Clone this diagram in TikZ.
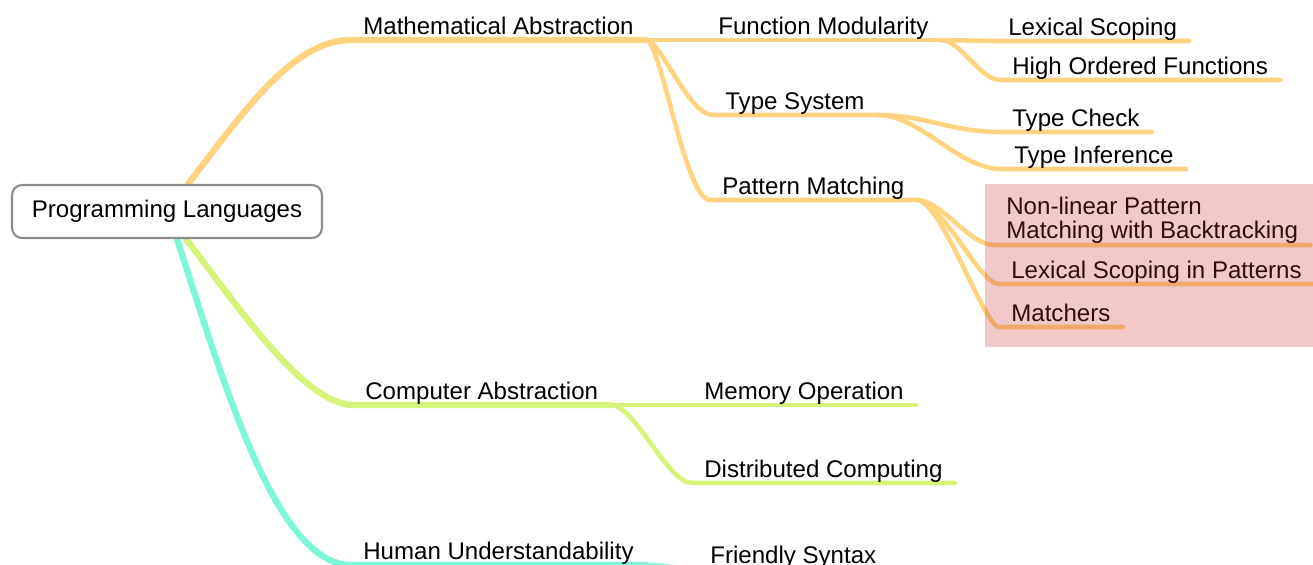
\documentclass[tikz,border=0pt]{standalone}
\usepackage{fontspec}
\setmainfont{Liberation Sans}
\usetikzlibrary{backgrounds}
\definecolor{mathcol}{RGB}{255,211,128}
\definecolor{compcol}{RGB}{214,243,122}
\definecolor{humancol}{RGB}{126,246,216}
\definecolor{hlcol}{RGB}{205,40,40}
\newcommand{\topicfont}{\fontsize{13.7}{14}\selectfont}

\begin{document}
\begin{tikzpicture}[
        x=0.02cm, y=-0.02cm,
        topic/.style={anchor=south west, inner xsep=0.24cm, inner ysep=0.02cm, text height=0.35cm, text depth=0.08cm, font=\topicfont},
        rootbox/.style={rectangle, draw=black!45, line width=1.2pt, rounded corners=0.2cm, minimum width=6.2cm, minimum height=1.06cm, fill=white, font=\topicfont},
        branch/.style={draw=#1, line width=3.6pt, line cap=round},
        twig/.style={draw=#1, line width=2.6pt, line cap=round},
        highlight/.style={rectangle, fill=hlcol, fill opacity=0.25, minimum width=6.56cm, minimum height=3.26cm, inner sep=0pt}
    ]
        \useasboundingbox (0,0) rectangle (1313,565);
        \node[rootbox] (lang) at (167,211.5) {Programming Languages};
        \node[topic] (math) at (351,40) {Mathematical Abstraction};
        \node[topic] (func) at (706,40) {Function Modularity};
        \node[topic] (lexscope) at (996,41) {Lexical Scoping};
        \node[topic] (hof) at (1000,80) {High Ordered Functions};
        \node[topic] (types) at (713,115) {Type System};
        \node[topic] (tcheck) at (1000,132) {Type Check};
        \node[topic] (tinfer) at (1002,169) {Type Inference};
        \node[topic] (pattern) at (710,200) {Pattern Matching};
        \node[topic, align=left, text depth=] (nonlin) at (994,245) {Non-linear Pattern\\Matching with Backtracking};
        \node[topic] (lexpat) at (999,284) {Lexical Scoping in Patterns};
        \node[topic] (matchers) at (999,327) {Matchers};
        \node[topic] (comp) at (353,405) {Computer Abstraction};
        \node[topic] (memop) at (692,405) {Memory Operation};
        \node[topic] (distcomp) at (692,483) {Distributed Computing};
        \node[topic] (human) at (351,565) {Human Understandability};
        \node[topic] (syntax) at (698,569) {Friendly Syntax};
        \begin{scope}[on background layer]
        \draw[branch=mathcol] ([xshift=0.42cm]lang.north) to[out=52,in=180,out distance=1.7cm,in distance=1.2cm] (math.south west) -- (math.south east);
        \draw[twig=mathcol] (math.south east) -- (func.south west) -- (func.south east);
        \draw[twig=mathcol] (func.south east) -- (lexscope.south west) -- (lexscope.south east);
        \draw[twig=mathcol] (func.south east) to[out=0,in=180,out distance=0.4cm,in distance=0.4cm] (hof.south west) -- (hof.south east);
        \draw[twig=mathcol] (math.south east) to[out=0,in=180,out distance=0.3cm,in distance=0.5cm] (types.south west) -- (types.south east);
        \draw[twig=mathcol] (types.south east) to[out=0,in=180,out distance=1cm,in distance=1cm] (tcheck.south west) -- (tcheck.south east);
        \draw[twig=mathcol] (types.south east) to[out=0,in=180,out distance=0.9cm,in distance=0.9cm] (tinfer.south west) -- (tinfer.south east);
        \draw[twig=mathcol] (math.south east) to[out=0,in=180,out distance=0.3cm,in distance=0.5cm] (pattern.south west) -- (pattern.south east);
        \draw[twig=mathcol] (pattern.south east) to[out=0,in=180,out distance=0.5cm,in distance=0.5cm] (nonlin.south west) -- (nonlin.south east);
        \draw[twig=mathcol] (pattern.south east) to[out=0,in=180,out distance=0.5cm,in distance=0.4cm] (lexpat.south west) -- (lexpat.south east);
        \draw[twig=mathcol] (pattern.south east) to[out=0,in=180,out distance=0.5cm,in distance=0.3cm] (matchers.south west) -- (matchers.south east);
        \draw[branch=compcol] ([xshift=0.38cm]lang.south) to[out=-52,in=180,out distance=1.5cm,in distance=1cm] (comp.south west) -- (comp.south east);
        \draw[twig=compcol] (comp.south east) -- (memop.south west) -- (memop.south east);
        \draw[twig=compcol] (comp.south east) to[out=0,in=180,out distance=0.5cm,in distance=0.5cm] (distcomp.south west) -- (distcomp.south east);
        \draw[branch=humancol] ([xshift=0.2cm]lang.south) to[out=-72,in=180,out distance=3cm,in distance=1.5cm] (human.south west) -- (human.south east);
        \draw[twig=humancol] (human.south east) to[out=0,in=180] (syntax.south west) -- (syntax.south east);
        \end{scope}
        \node[highlight] (pmgroup) at (1149,265.5) {};
    \end{tikzpicture}
\end{document}
